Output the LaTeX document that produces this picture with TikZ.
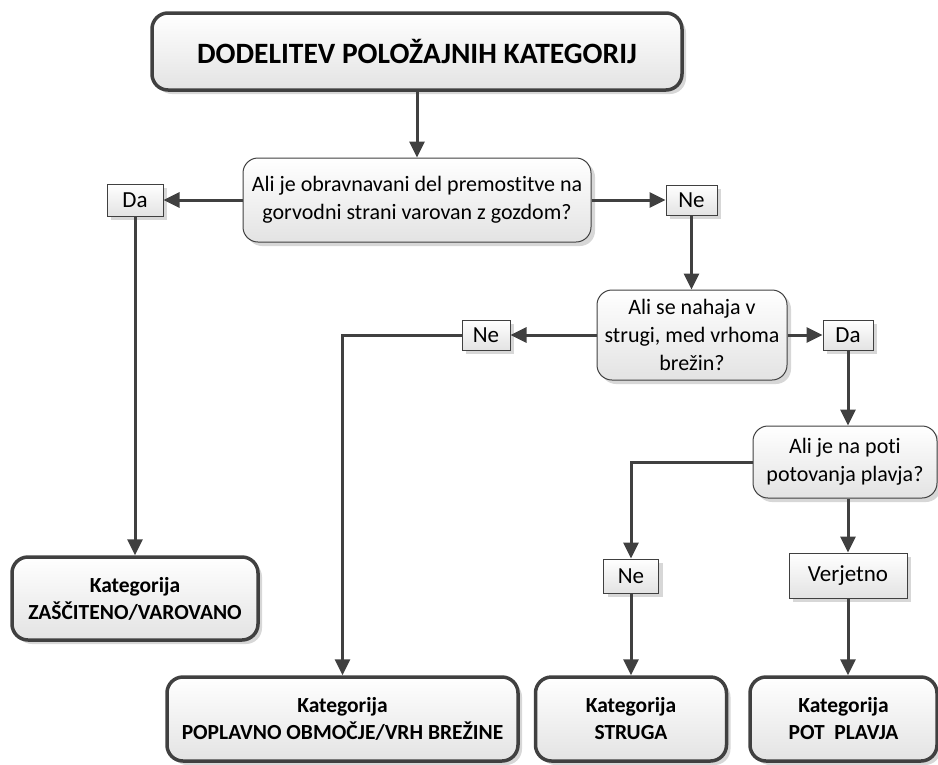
\documentclass[tikz,border=0pt]{standalone}
\usepackage{fontspec}
\setmainfont{Carlito}[Ligatures={NoCommon}]
\usetikzlibrary{arrows.meta,shadows}

\definecolor{edge}{HTML}{404040}

\begin{document}
\begin{tikzpicture}[x=1pt,y=-1pt,
  boxfill/.style={top color=white,bottom color=black!11,draw=edge},
  shade/.style={drop shadow={shadow xshift=4pt,shadow yshift=-4pt,fill=black!35,opacity=0.45}},
  header/.style={boxfill,shade,rounded corners=16pt,line width=3.5pt,inner sep=0pt,
    align=center,font=\fontsize{29.5}{34}\selectfont\bfseries},
  result/.style={boxfill,shade,rounded corners=16pt,line width=3.5pt,inner sep=0pt,
    align=center,font=\fontsize{21.5}{27}\selectfont\bfseries},
  question/.style={boxfill,shade,rounded corners=15pt,line width=1pt,inner sep=0pt,
    align=center,font=\fontsize{22}{28}\selectfont},
  answer/.style={boxfill,shade,line width=1pt,inner sep=0pt,
    align=center,font=\fontsize{23}{27}\selectfont},
  conn/.style={draw=edge,line width=3pt,-{Triangle[length=16pt,width=15pt]}}
]
\useasboundingbox (0,0) rectangle (938,764);

% title
\node[header,minimum width=530pt,minimum height=77pt] (title) at (417,51.5)
  {DODELITEV POLOŽAJNIH KATEGORIJ};

% decisions
\node[question,minimum width=348pt,minimum height=84pt] (q1) at (417,200)
  {Ali je obravnavani del premostitve na\\gorvodni strani varovan z gozdom?};
\node[question,minimum width=190pt,minimum height=90pt] (q2) at (692,335)
  {Ali se nahaja v\\strugi, med vrhoma\\brežin?};
\node[question,minimum width=184pt,minimum height=72pt] (q3) at (845,462)
  {Ali je na poti\\potovanja plavja?};

% answers
\node[answer,minimum width=56pt,minimum height=32pt] (da1) at (135,200) {Da};
\node[answer,minimum width=51pt,minimum height=30pt] (ne1) at (691.5,200) {Ne};
\node[answer,minimum width=48pt,minimum height=30pt] (ne2) at (486,335) {Ne};
\node[answer,minimum width=50pt,minimum height=30pt] (da2) at (848,335) {Da};
\node[answer,minimum width=55pt,minimum height=34pt] (ne3) at (631,576) {Ne};
\node[answer,minimum width=118pt,minimum height=45pt] (ver) at (848,575.5) {Verjetno};

% categories
\node[result,minimum width=246pt,minimum height=83pt] (zas) at (135,598.5)
  {Kategorija\\ZAŠČITENO/VAROVANO};
\node[result,minimum width=351pt,minimum height=84pt] (pop) at (342.5,719)
  {Kategorija\\POPLAVNO OBMOČJE/VRH BREŽINE};
\node[result,minimum width=191pt,minimum height=84pt] (str) at (631,719)
  {Kategorija\\STRUGA};
\node[result,minimum width=187pt,minimum height=84pt] (pot) at (843.5,719)
  {Kategorija\\POT\ \ PLAVJA};

% connectors
\draw[conn] (title.south) -- (q1.north);
\draw[conn] (q1.west) -- (da1.east);
\draw[conn] (q1.east) -- (ne1.west);
\draw[conn] (da1.south) -- (zas.north);
\draw[conn] (ne1.south) -- (ne1.south |- q2.north);
\draw[conn] (q2.west) -- (ne2.east);
\draw[conn] (q2.east) -- (da2.west);
\draw[conn] (ne2.west) -| (pop.north);
\draw[conn] (da2.south) -- (da2.south |- q3.north);
\draw[conn] (q3.west) -| (ne3.north);
\draw[conn] (ne3.south) -- (str.north);
\draw[conn] (ver.north |- q3.south) -- (ver.north);
\draw[conn] (ver.south) -- (ver.south |- pot.north);
\end{tikzpicture}
\end{document}
